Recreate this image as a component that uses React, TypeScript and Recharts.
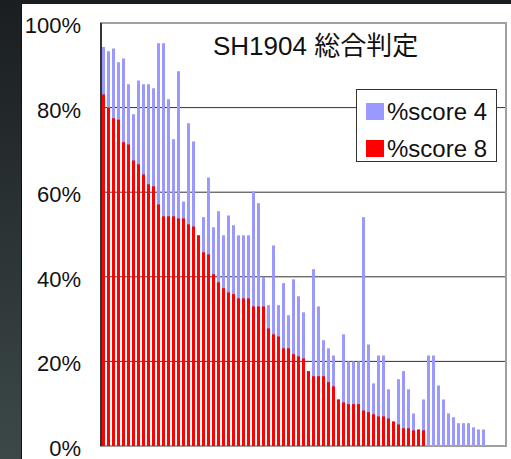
import React from 'react';
import { Bar, BarChart, CartesianGrid, Legend, ReferenceArea, XAxis, YAxis } from 'recharts';

const FONT = '"Liberation Sans", Arial, "Noto Sans CJK JP", sans-serif';

// 81 category slots on the axis, only the first 77 carry data
const categories = Array.from({ length: 81 }, (_, i) => `${i + 1}`);

// % of students at score >= 4
const score4 = [
  94.3, 93.3, 94.0, 90.7, 91.6, 85.5, 78.4, 86.4, 85.5, 85.5,
  84.6, 95.2, 95.2, 82.0, 72.5, 88.6, 57.8, 76.3, 72.0, 49.8,
  54.1, 63.5, 51.7, 55.5, 49.8, 54.5, 52.2, 49.8, 49.8, 49.8,
  60.2, 57.4, 39.9, 33.3, 47.4, 33.3, 38.5, 30.9, 39.4, 35.4,
  31.6, 17.7, 41.8, 33.0, 25.0, 23.1, 21.4, 11.0, 26.4, 20.0,
  20.0, 20.0, 54.1, 24.0, 14.8, 21.4, 21.4, 13.4, 5.8, 15.8,
  17.7, 13.4, 7.7, 3.9, 11.0, 21.4, 21.4, 14.3, 11.0, 7.7,
  6.8, 5.4, 5.4, 5.4, 4.4, 3.9, 3.9,
];

// % of students at score >= 8
const score8 = [
  83.1, 80.0, 77.5, 77.1, 71.8, 71.3, 67.5, 66.6, 64.2, 61.9,
  61.4, 57.1, 54.3, 54.3, 54.3, 53.8, 53.8, 52.4, 51.9, 49.8,
  45.8, 45.3, 40.6, 38.7, 37.3, 36.3, 35.9, 34.9, 34.9, 34.9,
  33.0, 33.0, 33.0, 27.8, 26.4, 25.9, 23.1, 23.1, 21.7, 21.2,
  20.7, 17.7, 16.5, 16.5, 16.5, 15.1, 14.1, 11.0, 10.3, 9.9,
  9.9, 9.9, 8.4, 8.0, 7.5, 7.0, 7.0, 6.5, 5.8, 5.1,
  4.2, 4.2, 3.7, 3.9, 3.7, 0, 0, 0, 0, 0,
  0, 0, 0, 0, 0, 0, 0,
];

const yTicks = [0, 20, 40, 60, 80, 100];

const data = categories.map((name, i) => ({
  name,
  score4: score4[i] ?? null,
  score8: score8[i] ?? null,
}));

const YTick = ({ x, y, payload }: any) => (
  <text x={x} y={y} dy={10} textAnchor="end" fontSize={22} fill="#111" fontFamily={FONT}>
    {`${payload.value}%`}
  </text>
);

const LegendBox = ({ payload }: any) => (
  <div
    style={{
      width: 141,
      height: 73,
      boxSizing: 'border-box',
      border: '1px solid #333',
      background: '#fff',
      paddingTop: 3,
    }}
  >
    {(payload || []).map((item: any) => (
      <div key={item.value} style={{ height: 37, display: 'flex', alignItems: 'center', paddingLeft: 9 }}>
        <span style={{ display: 'inline-block', width: 18, height: 17, background: item.color, marginRight: 3 }} />
        <span style={{ fontSize: 24, lineHeight: 1, color: '#111', fontFamily: FONT, whiteSpace: 'pre' }}>
          {item.value}
        </span>
      </div>
    ))}
  </div>
);

export default function App() {
  return (
    <div
      style={{
        position: 'absolute',
        left: 0,
        top: 0,
        width: 511,
        height: 459,
        overflow: 'hidden',
        background: 'linear-gradient(to bottom, #1a1e20, #3c4848)',
      }}
    >
      <div
        style={{
          position: 'absolute',
          left: 21,
          top: 4,
          right: 0,
          bottom: 0,
          background: '#fff',
          borderLeft: '1px solid #111',
        }}
      />
      <div style={{ position: 'absolute', left: 0, top: 0 }}>
        <BarChart
          width={511}
          height={459}
          data={data}
          margin={{ top: 23, right: 5, bottom: 13, left: 0 }}
          barSize={3}
          barGap={-3}
        >
          <CartesianGrid vertical={false} stroke="#333" />
          <XAxis dataKey="name" hide />
          <YAxis
            width={101}
            domain={[0, 100]}
            ticks={yTicks}
            interval={0}
            tickLine={false}
            tickSize={0}
            tickMargin={20}
            axisLine={{ stroke: '#111', strokeWidth: 1.5 }}
            tick={<YTick />}
          />
          <Legend
            layout="vertical"
            align="center"
            verticalAlign="middle"
            wrapperStyle={{ left: 356, top: 89, width: 141, height: 73 }}
            content={<LegendBox />}
          />
          <Bar dataKey="score4" name="%score 4" fill="#9999ff" isAnimationActive={false} />
          <Bar dataKey="score8" name="%score 8" fill="#ff0000" isAnimationActive={false} />
          <ReferenceArea y1={0} y2={100} fill="none" stroke="#a0a0a0" strokeWidth={2} />
        </BarChart>
      </div>
      <div
        style={{
          position: 'absolute',
          left: 213,
          width: 200,
          top: 33,
          textAlign: 'center',
          fontSize: 26,
          lineHeight: '26px',
          color: '#111',
          fontFamily: FONT,
          whiteSpace: 'nowrap',
        }}
      >
        SH1904 総合判定
      </div>
    </div>
  );
}
